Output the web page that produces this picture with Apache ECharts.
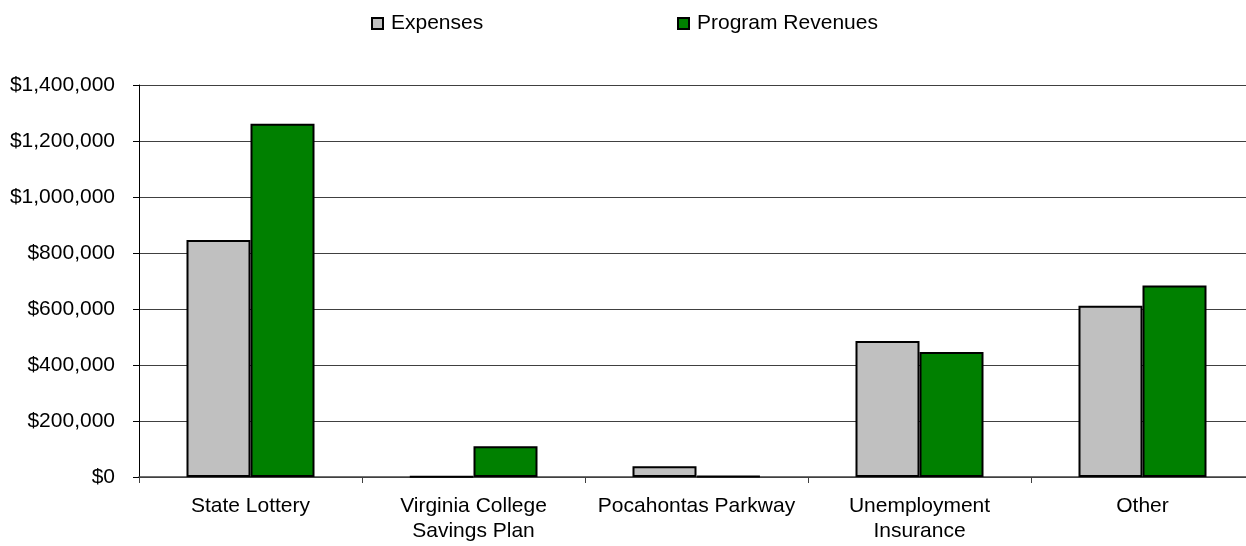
<!DOCTYPE html>
<html>
<head>
<meta charset="utf-8">
<script src="https://cdn.jsdelivr.net/npm/echarts@6/dist/echarts.min.js"></script>
<style>
html,body{margin:0;padding:0;background:#fff;}
#chart{width:1246px;height:546px;}
</style>
</head>
<body>
<div id="chart"></div>
<script>
var categories = ['State Lottery', 'Virginia College\nSavings Plan', 'Pocahontas Parkway', 'Unemployment\nInsurance', 'Other'];
var expenses = [846000, 2000, 38000, 486000, 612000];
var programRevenues = [1262000, 110000, 4000, 446000, 684000];
var yTicks = [0, 200000, 400000, 600000, 800000, 1000000, 1200000, 1400000];

var FONT = '"Liberation Sans", Arial, sans-serif';
var chart = echarts.init(document.getElementById('chart'));
var legendBase = {
  top: 8,
  icon: 'rect', itemWidth: 11, itemHeight: 11,
  itemStyle: { borderColor: '#000', borderWidth: 2 },
  textStyle: { fontFamily: FONT, fontSize: 21, color: '#000', padding: [0, 0, 0, 3] }
};
var option = {
  animation: false,
  backgroundColor: '#ffffff',
  legend: [
    Object.assign({ left: 366, data: ['Expenses'] }, legendBase),
    Object.assign({ left: 672, data: ['Program Revenues'] }, legendBase)
  ],
  grid: { left: 139, right: -8, top: 85, bottom: 69, containLabel: false, outerBoundsMode: 'none' },
  xAxis: {
    type: 'category',
    data: categories,
    boundaryGap: true,
    axisLine: { lineStyle: { color: '#404040', width: 1.5 } },
    axisTick: { show: true, length: 6, lineStyle: { color: '#404040' } },
    axisLabel: { fontFamily: FONT, fontSize: 21, color: '#000', margin: 17, lineHeight: 25, interval: 0 }
  },
  yAxis: {
    type: 'value',
    min: yTicks[0],
    max: yTicks[yTicks.length - 1],
    interval: yTicks[1] - yTicks[0],
    axisLine: { show: true, lineStyle: { color: '#000', width: 1 } },
    axisTick: { show: true, length: 6, lineStyle: { color: '#000' } },
    splitLine: { lineStyle: { color: '#404040', width: 1 } },
    axisLabel: {
      fontFamily: FONT, fontSize: 21, color: '#000', margin: 24,
      formatter: function (v) { return '$' + v.toLocaleString('en-US'); }
    }
  },
  series: [
    {
      name: 'Expenses', type: 'bar', data: expenses,
      barGap: '0%', barCategoryGap: '42.6%',
      itemStyle: { color: '#C0C0C0', borderColor: '#000', borderWidth: 2 }
    },
    {
      name: 'Program Revenues', type: 'bar', data: programRevenues,
      barGap: '0%', barCategoryGap: '42.6%',
      itemStyle: { color: '#008000', borderColor: '#000', borderWidth: 2 }
    }
  ]
};
chart.setOption(option);
</script>
</body>
</html>
